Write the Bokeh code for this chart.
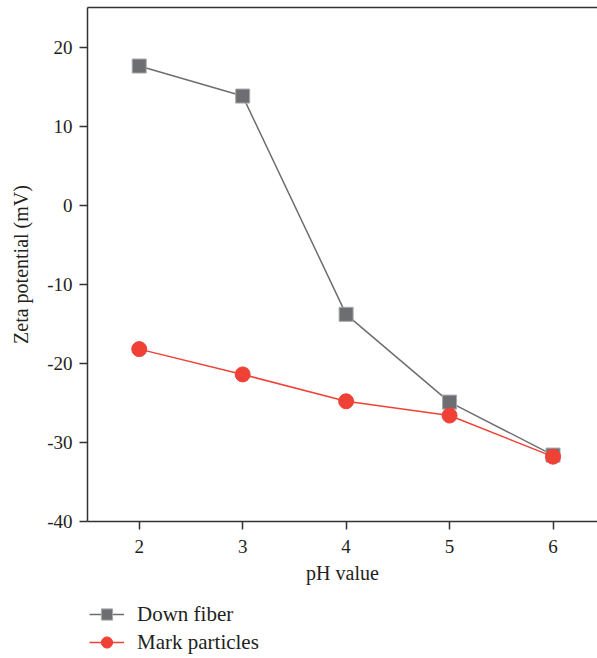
from bokeh.plotting import figure
from bokeh.models import LinearAxis, Legend, LegendItem, FixedTicker, Range1d, PrintfTickFormatter
from bokeh.layouts import column
from bokeh.embed import file_html
from bokeh.resources import INLINE

ph = [2, 3, 4, 5, 6]
down_fiber = [17.6, 13.8, -13.8, -24.9, -31.6]
mark_particles = [-18.2, -21.4, -24.8, -26.6, -31.8]
x_ticks = [2, 3, 4, 5, 6]
y_ticks = [-40, -30, -20, -10, 0, 10, 20]

FONT = "Liberation Serif"
TXT = "#231f20"
GRAY = "#6d6e72"
RED = "#ef4136"

p = figure(width=597, height=600, output_backend="svg", toolbar_location=None,
           x_range=Range1d(1.5, 6.43), y_range=Range1d(-40, 25),
           min_border_left=87, min_border_right=0, min_border_top=7,
           min_border_bottom=79)
p.grid.visible = False
p.outline_line_color = None
p.background_fill_color = "white"
p.border_fill_color = "white"

for ax in (p.xaxis[0], p.yaxis[0]):
    ax.axis_line_color = "#333333"
    ax.axis_line_width = 1.5
    ax.major_tick_line_color = "#333333"
    ax.major_tick_line_width = 1.5
    ax.major_tick_out = 8
    ax.major_tick_in = 0
    ax.minor_tick_line_color = None
    ax.major_label_text_font = FONT
    ax.major_label_text_font_size = "19px"
    ax.major_label_text_color = TXT
    ax.axis_label_text_font = FONT
    ax.axis_label_text_font_size = "20px"
    ax.axis_label_text_font_style = "normal"
    ax.axis_label_text_color = TXT

p.xaxis[0].ticker = FixedTicker(ticks=x_ticks)
p.yaxis[0].ticker = FixedTicker(ticks=y_ticks)
p.yaxis[0].formatter = PrintfTickFormatter(format="%d")
p.xaxis[0].axis_label = "pH value"
p.yaxis[0].axis_label = "Zeta potential (mV)"
p.xaxis[0].major_label_standoff = 10
p.xaxis[0].axis_label_standoff = 6
p.yaxis[0].major_label_standoff = 7
p.yaxis[0].axis_label_standoff = 12

top = LinearAxis(axis_line_color="#333333", axis_line_width=1.5,
                 major_tick_line_color=None, minor_tick_line_color=None,
                 major_label_text_font_size="0px", major_label_standoff=0,
                 ticker=FixedTicker(ticks=[]))
p.add_layout(top, "above")

p.line(ph, down_fiber, line_color=GRAY, line_width=1.5)
p.scatter(ph, down_fiber, marker="square", size=14, fill_color=GRAY,
          line_color="#a7a8ab", line_width=1)
p.line(ph, mark_particles, line_color=RED, line_width=1.5)
p.scatter(ph, mark_particles, marker="circle", size=15, fill_color=RED,
          line_color=RED, line_width=1)

# legend panel below the chart
lg = figure(width=597, height=58, output_backend="svg", toolbar_location=None,
            x_range=Range1d(100, 101), y_range=Range1d(100, 101),
            min_border=0)
lg.axis.visible = False
lg.grid.visible = False
lg.outline_line_color = None
l1 = lg.line(ph, down_fiber, line_color=GRAY, line_width=1.5)
m1 = lg.scatter(ph, down_fiber, marker="square", size=14, fill_color=GRAY,
                line_color="#a7a8ab", line_width=1)
l2 = lg.line(ph, mark_particles, line_color=RED, line_width=1.5)
m2 = lg.scatter(ph, mark_particles, marker="circle", size=15, fill_color=RED,
                line_color=RED, line_width=1)

legend = Legend(items=[LegendItem(label="Down fiber", renderers=[l1, m1]),
                       LegendItem(label="Mark particles", renderers=[l2, m2])],
                orientation="vertical", location=(2, 2),
                label_text_font=FONT, label_text_font_size="21px",
                label_text_color=TXT, glyph_width=35, glyph_height=28,
                label_height=20, spacing=0, padding=0, margin=0,
                border_line_color=None, background_fill_alpha=0,
                label_standoff=13)
lg.add_layout(legend, "center")

layout = column(p, lg, spacing=0)
open("out.html", "w").write(file_html(layout, INLINE))
